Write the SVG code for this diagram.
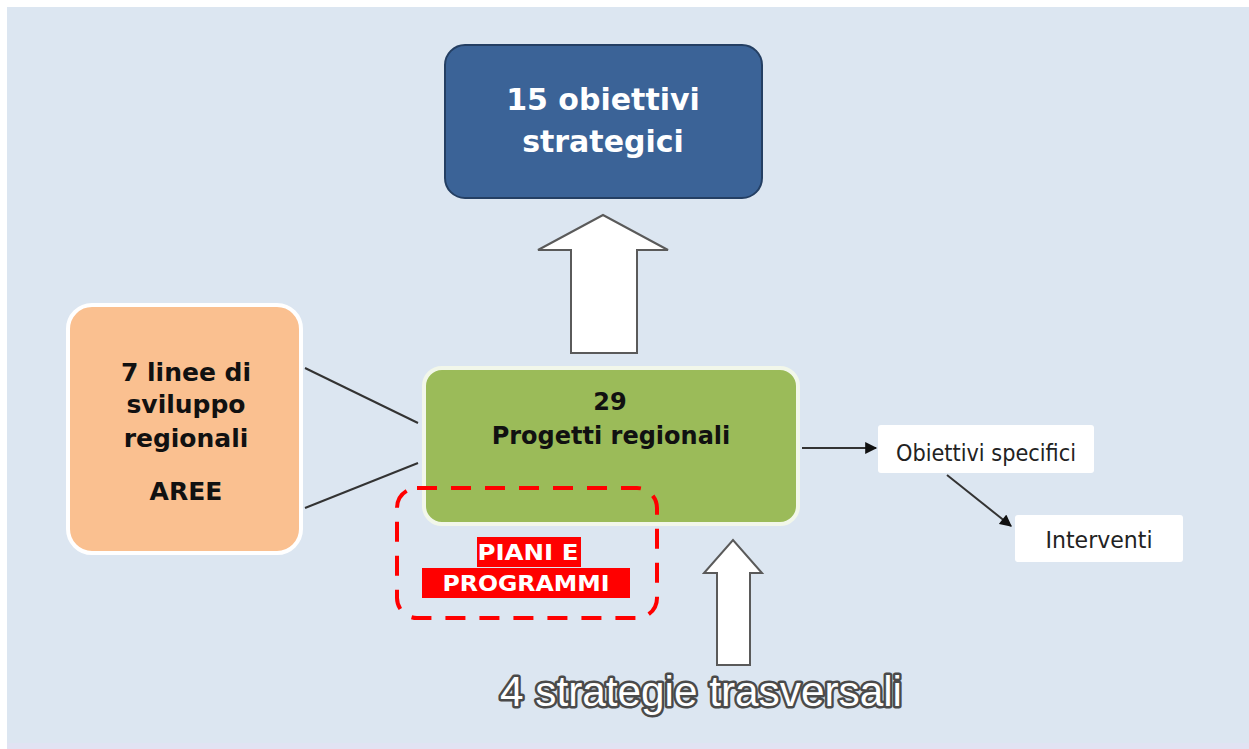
<svg xmlns="http://www.w3.org/2000/svg" width="1249" height="749" viewBox="0 0 1249 749">
<defs>
<marker id="ah" viewBox="0 0 10 10" refX="9" refY="5" markerWidth="13" markerHeight="12" markerUnits="userSpaceOnUse" orient="auto">
<path d="M0,0 L10,5 L0,10 z" fill="#111"/>
</marker>
<style>
.bold{font-family:"DejaVu Sans","Verdana",sans-serif;font-weight:bold;text-anchor:middle}
.reg{font-family:"DejaVu Sans",sans-serif;text-anchor:middle;fill:#222}
.blk{fill:#fff;stroke:#5a5a5a;stroke-width:2}
.conn{stroke:#333;stroke-width:2;fill:none}
</style>
</defs>
<rect x="0" y="0" width="1249" height="749" fill="#ffffff"/>
<rect x="7" y="7" width="1242" height="737" fill="#dce6f1"/>
<rect x="7" y="743" width="1242" height="6" fill="#e1e3f3"/>

<g id="connectors">
<line class="conn" x1="305" y1="368" x2="418" y2="423"/>
<line class="conn" x1="305" y1="508" x2="418" y2="463"/>
<line class="conn" x1="802" y1="448" x2="876" y2="448" marker-end="url(#ah)"/>
<line class="conn" x1="947" y1="475" x2="1011" y2="526" marker-end="url(#ah)"/>
<path id="arrow-up-top" class="blk" d="M571,353 L571,250 L538,250 L603,215 L668,250 L637,250 L637,353 Z"/>
<path id="arrow-up-bottom" class="blk" d="M717,665 L717,573 L704,573 L733,540 L762,573 L750,573 L750,665 Z"/>
</g>

<g id="node-obiettivi-strategici">
<rect x="445" y="45" width="317" height="153" rx="20" fill="#3b6397" stroke="#243f63" stroke-width="2"/>
<text class="bold" x="603" y="110" font-size="30" fill="#fff">15 obiettivi</text>
<text class="bold" x="603" y="152" font-size="30" fill="#fff">strategici</text>
</g>

<g id="node-linee">
<rect x="68" y="305" width="233" height="248" rx="24" fill="#fac090" stroke="#ffffff" stroke-width="4"/>
<text class="bold" x="186" y="381" font-size="25" fill="#111">7 linee di</text>
<text class="bold" x="186" y="413" font-size="25" fill="#111">sviluppo</text>
<text class="bold" x="186" y="447" font-size="25" fill="#111">regionali</text>
<text class="bold" x="186" y="500" font-size="25" fill="#111">AREE</text>
</g>

<g id="node-progetti">
<rect x="424" y="368" width="374" height="156" rx="18" fill="#9bbb59" stroke="#f2f7ea" stroke-width="4"/>
<text class="bold" x="610" y="410" font-size="24" fill="#111">29</text>
<text class="bold" x="611" y="444" font-size="24" fill="#111">Progetti regionali</text>
</g>

<g id="node-piani">
<rect x="397" y="488" width="260" height="130" rx="20" fill="none" stroke="#ff0000" stroke-width="4" stroke-dasharray="20 14"/>
<rect x="477" y="537" width="104" height="30" fill="#ff0000"/>
<rect x="422" y="568" width="208" height="30" fill="#ff0000"/>
<text class="bold" x="528" y="560" font-size="21" fill="#fff" textLength="101" lengthAdjust="spacingAndGlyphs">PIANI E</text>
<text class="bold" x="526" y="591" font-size="21" fill="#fff" textLength="167" lengthAdjust="spacingAndGlyphs">PROGRAMMI</text>
</g>

<g id="node-obiettivi-specifici">
<rect x="878" y="425" width="216" height="48" rx="3" fill="#ffffff"/>
<text class="reg" x="986" y="461" font-size="23" textLength="180" lengthAdjust="spacingAndGlyphs">Obiettivi specifici</text>
</g>

<g id="node-interventi">
<rect x="1015" y="515" width="168" height="47" rx="3" fill="#ffffff"/>
<text class="reg" x="1099" y="548" font-size="23" textLength="107" lengthAdjust="spacingAndGlyphs">Interventi</text>
</g>

<g id="node-strategie">
<text x="701" y="706" font-family="Liberation Sans, Arial, sans-serif" font-size="42" text-anchor="middle" fill="#ffffff" stroke="#4a4a4a" stroke-width="5" paint-order="stroke" stroke-linejoin="round" textLength="402" lengthAdjust="spacingAndGlyphs">4 strategie trasversali</text>
</g>
</svg>
